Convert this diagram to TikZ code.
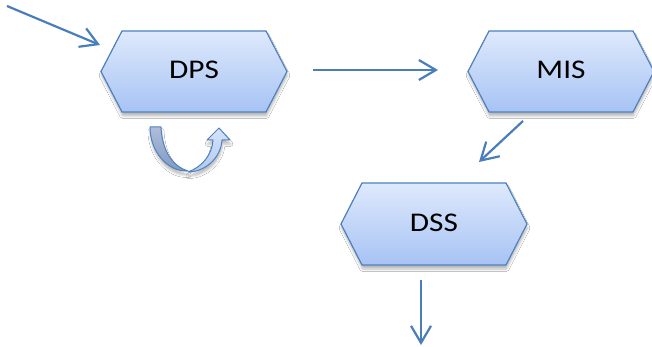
\documentclass[tikz,border=0pt]{standalone}
\usepackage{fontspec}
\setmainfont{Carlito}
\newfontfamily\labfont{Carlito}[FakeStretch=1.16]
\usetikzlibrary{arrows.meta,calc,shadows.blur}
\definecolor{lineblue}{HTML}{4A7EBB}
\definecolor{edgeblue}{HTML}{4F81BD}
\definecolor{hextop}{HTML}{DEE9FC}
\definecolor{hexbot}{HTML}{A7C3F4}
\definecolor{backtop}{HTML}{AEBDDB}
\definecolor{backbot}{HTML}{8199C4}
\definecolor{fronttop}{HTML}{D6E4FB}
\definecolor{frontbot}{HTML}{AFC8F3}
\newcommand\hexa[6]{%
  \path[hexshape] (#2-#4,#3) -- (#2-#4+21,#3-#5) -- (#2+#4-21,#3-#5) -- (#2+#4,#3)
    -- (#2+#4-21,#3+#5) -- (#2-#4+21,#3+#5) -- cycle;
  \node[hextext] (#1) at (#2,#3-1.5) {#6};}
\begin{document}
\begin{tikzpicture}[x=1pt,y=-1pt,
  softshadow/.style={blur shadow={shadow xshift=0.5pt, shadow yshift=-4pt, shadow blur radius=2.5pt, shadow opacity=28}},
  hexshape/.style={draw=edgeblue, line width=1.2pt, top color=hextop, bottom color=hexbot, softshadow},
  hextext/.style={font=\labfont\fontsize{27}{31}\selectfont, text=black, inner sep=0pt},
  flow/.style={draw=lineblue, line width=2.2pt, -{Straight Barb[length=17pt,width=20pt]}},
  uback/.style={draw=edgeblue, line width=1pt, top color=backtop, bottom color=backbot, line join=round},
  ufront/.style={draw=edgeblue, line width=1pt, top color=fronttop, bottom color=frontbot, line join=round}]
\useasboundingbox (0,0) rectangle (652,347);
\fill[white] (0,0) rectangle (652,347);

\hexa{DPS}{194}{71.5}{93}{40.5}{DPS}
\hexa{MIS}{561}{71.5}{93}{40.5}{MIS}
\hexa{DSS}{434}{224}{93}{41}{DSS}

% U-turn block arrow
\path[uback, softshadow]
  (150,127) -- (161,127) .. controls (162,150) and (172,166) .. (188,171)
  .. controls (168,172) and (150,152) .. (150,127) -- cycle;
\path[ufront, softshadow]
  (188,172) .. controls (205,172) and (221,158) .. (222,140) -- (230,140) -- (219,128)
  -- (207,140) -- (213,140) .. controls (212,155) and (202,167) .. (188,172) -- cycle;

% arrows
\coordinate (inS) at (7,6);     \coordinate (inE) at (100,45);
\coordinate (dmS) at (313,70);  \coordinate (dmE) at (438,70);
\coordinate (mdS) at (523,121); \coordinate (mdE) at (479,162);
\coordinate (outS) at (421,280);\coordinate (outE) at (421,345);
\draw[flow] (inS) -- (inE);
\draw[flow] (dmS) -- (dmE);
\draw[flow] (mdS) -- (mdE);
\draw[flow] (outS) -- (outE);
\end{tikzpicture}
\end{document}
